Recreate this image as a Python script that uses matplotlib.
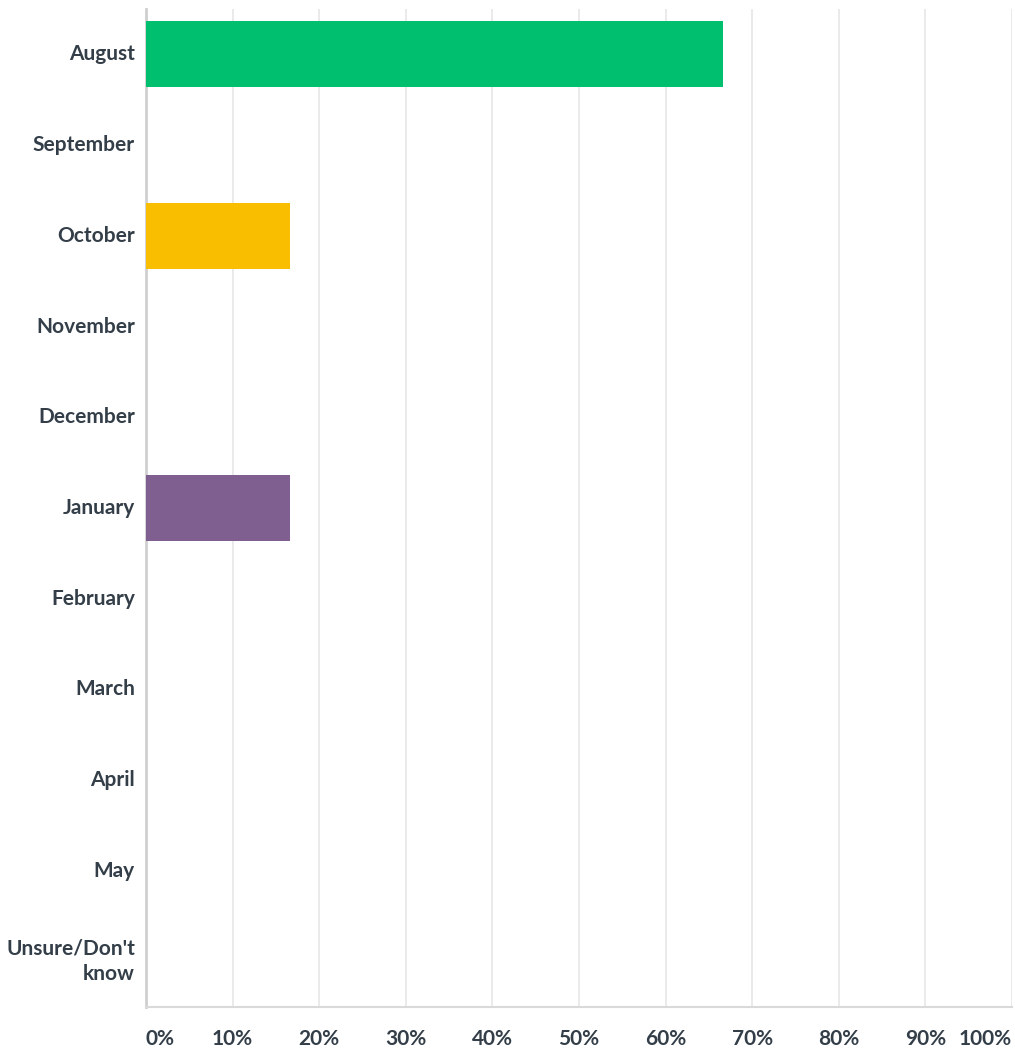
import numpy as np
from matplotlib import pyplot as plt

# Data
categories = ['August', 'September', 'October', 'November', 'December',
              'January', 'February', 'March', 'April', 'May',
              "Unsure/Don't\nknow"]
values = [66.67, 0, 16.67, 0, 0, 16.67, 0, 0, 0, 0, 0]
colors = ['#00bf6f', '#00bf6f', '#f9be00', '#f9be00', '#f9be00',
          '#7f5f90', '#7f5f90', '#7f5f90', '#7f5f90', '#7f5f90', '#7f5f90']
xticks = np.arange(0, 101, 10)
xtick_labels = [f'{t}%' for t in xticks]

plt.rcParams['font.family'] = ['Lato', 'DejaVu Sans']
txt_color = '#333e48'

fig = plt.figure(figsize=(10.15, 10.51), dpi=100)
ax = fig.add_axes([146/1015, 1 - 1007/1051, (1012-146)/1015, (1007-9)/1051])

y = np.arange(len(categories))
ax.barh(y, values, height=0.73, color=colors, zorder=3)

ax.set_xlim(0, 100)
ax.set_ylim(len(categories) - 0.5, -0.5)

# Grid
ax.set_xticks(xticks)
ax.grid(axis='x', color='#e6e6e6', linewidth=1.2, zorder=0)
ax.tick_params(axis='x', length=0, pad=16)
ax.set_xticklabels(xtick_labels, fontsize=15, fontweight='bold', color=txt_color)
labs = ax.get_xticklabels()
labs[0].set_ha('left')
labs[-1].set_ha('right')

ax.set_yticks(y)
ax.set_yticklabels(categories, fontsize=15, fontweight='bold', color=txt_color,
                   linespacing=1.35)
for lab in ax.get_yticklabels():
    lab.set_va('center')
ax.tick_params(axis='y', length=0, pad=8)

for s in ['top', 'right']:
    ax.spines[s].set_visible(False)
ax.spines['left'].set_color('#cfcfcf')
ax.spines['left'].set_linewidth(2)
ax.spines['bottom'].set_color('#d9d9d9')
ax.spines['bottom'].set_linewidth(1.5)

plt.savefig('out.png', dpi=100)
